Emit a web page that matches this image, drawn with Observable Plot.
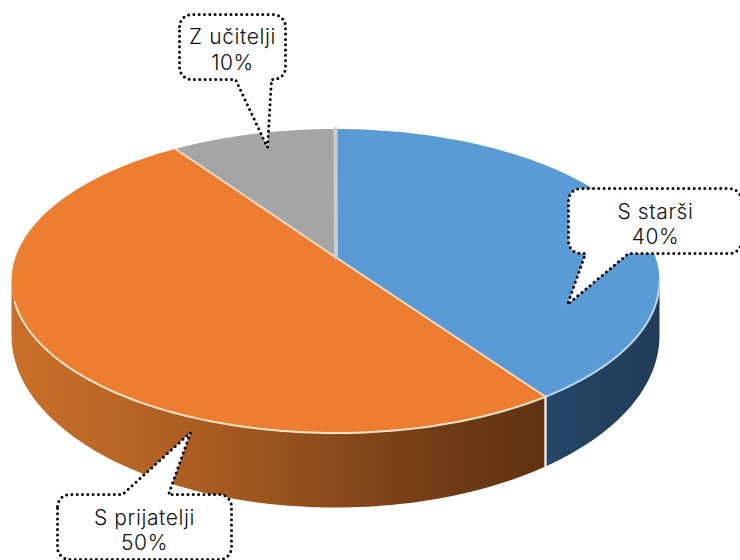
<!DOCTYPE html>
<html>
<head>
<meta charset="utf-8">
<script src="https://cdn.jsdelivr.net/npm/d3@7"></script>
<script src="https://cdn.jsdelivr.net/npm/@observablehq/plot@0.6"></script>
<style>
html,body{margin:0;padding:0;background:#fff;overflow:hidden}
svg{display:block}
</style>
</head>
<body>
<div id="chart"></div>
<script>
const categories = ["S starši", "S prijatelji", "Z učitelji"];
const values = [40, 50, 10];
const sliceColors = ["#5B9BD5", "#ED7D31", "#A5A5A5"];
const rimColors = ["#bcd6ee", "#fde3c8", "#c9ced6"];

// perspective drawing of the disc
const W = 740, H = 560;
const topRim = {cx: 335, cy: 280.5, rx: 324, ry: 152};
const bottomRim = {cx: 335, cy: 335, rx: 324, ry: 172};
const apex = {x: 335.5, y: 257};
const rad = d => d * Math.PI / 180;
const warp = a => a - 9.18 * Math.sin(rad(a)) - 1.05 * Math.sin(rad(2 * a));
const onEllipse = (e, t) => ({x: e.cx + e.rx * Math.sin(rad(t)), y: e.cy - e.ry * Math.cos(rad(t))});
const steps = (a0, a1, n = 90) => d3.range(n + 1).map(i => a0 + (a1 - a0) * i / n);

const total = d3.sum(values);
let acc = 0;
const slices = values.map((v, i) => {
  const a0 = acc / total * 360; acc += v;
  return {i, a0, a1: acc / total * 360, t0: warp(a0), t1: warp(acc / total * 360)};
});

const poly = (pts, o) => Plot.line(pts, {x: "x", y: "y", curve: "linear", ...o});

const marks = [];

// gradients for the wall
const wallGradients = () => {
  const defs = d3.create("svg:defs");
  const grad = (id, stops) => {
    const g = defs.append("linearGradient").attr("id", id).attr("gradientUnits", "userSpaceOnUse")
      .attr("x1", 0).attr("x2", W).attr("y1", 0).attr("y2", 0);
    stops.forEach(([o, c]) => g.append("stop").attr("offset", o).attr("stop-color", c));
  };
  grad("wall0", [[0.73, "#264a6c"], [0.78, "#234362"], [0.9, "#213c58"]]);
  grad("wall1", [[0.02, "#c96f29"], [0.14, "#bc6827"], [0.30, "#a55a20"], [0.45, "#8a4a1b"], [0.60, "#703c16"], [0.74, "#603212"]]);
  return defs.node();
};
marks.push(wallGradients);

// side walls (front half only)
slices.forEach(s => {
  const t0 = Math.max(s.t0, 90), t1 = Math.min(s.t1, 270);
  if (t1 <= t0) return;
  const ts = steps(t0, t1);
  const pts = [...ts.map(t => onEllipse(topRim, t)), ...ts.slice().reverse().map(t => onEllipse(bottomRim, t))];
  marks.push(poly(pts, {fill: `url(#wall${s.i})`, stroke: "none"}));
});
// divider on the wall
{
  const t = slices[0].t1;
  marks.push(poly([onEllipse(topRim, t), onEllipse(bottomRim, t)], {stroke: "#ece9e6", strokeWidth: 2.4}));
}

// top faces
slices.forEach(s => {
  const rim = steps(s.a0, s.a1).map(a => onEllipse(topRim, warp(a)));
  marks.push(poly([apex, ...rim, apex], {fill: sliceColors[s.i], stroke: "none"}));
});
// rim highlight on the front
slices.forEach(s => {
  const t0 = Math.max(s.t0, 90), t1 = Math.min(s.t1, 262);
  if (t1 <= t0) return;
  marks.push(poly(steps(t0, t1).map(t => onEllipse(topRim, t)), {stroke: rimColors[s.i], strokeWidth: 2}));
});
// slice borders on the face
marks.push(poly([apex, onEllipse(topRim, slices[0].t1)], {stroke: "#f6dcc4", strokeWidth: 2}));
marks.push(poly([apex, onEllipse(topRim, slices[1].t1)], {stroke: "#eed9c6", strokeWidth: 2}));
marks.push(poly([apex, onEllipse(topRim, 0)], {stroke: rimColors[2], strokeWidth: 4}));

// callouts
const callouts = [
  {box: [568, 188, 741, 253], side: "bottom", base: [585, 628], tip: [567, 304], label: [655, 223]},
  {box: [57, 494, 231, 559], side: "top", base: [122, 168], tip: [190, 432], label: [144, 529]},
  {box: [179, 14, 285, 79], side: "bottom", base: [235, 271], tip: [267, 147], label: [232, 48.5]}
];
const corner = (cx, cy, r, from) => d3.range(0, 7).map(i => {
  const t = rad(from + i * 15);
  return {x: cx + r * Math.cos(t), y: cy + r * Math.sin(t)};
});
function calloutShape({box: [x0, y0, x1, y1], side, base, tip}) {
  const r = 12, p = [];
  const tipP = {x: tip[0], y: tip[1]};
  p.push(...corner(x0 + r, y0 + r, r, 180));
  if (side === "top") p.push({x: base[0], y: y0}, tipP, {x: base[1], y: y0});
  p.push(...corner(x1 - r, y0 + r, r, 270));
  p.push(...corner(x1 - r, y1 - r, r, 0));
  if (side === "bottom") p.push({x: base[1], y: y1}, tipP, {x: base[0], y: y1});
  p.push(...corner(x0 + r, y1 - r, r, 90));
  p.push(p[0]);
  return p;
}
callouts.forEach(c => {
  marks.push(poly(calloutShape(c), {
    fill: "white", stroke: "#000", strokeWidth: 3,
    strokeDasharray: "0 5.3", strokeLinecap: "round", strokeLinejoin: "round"
  }));
});
marks.push(Plot.text(callouts, {
  x: d => d.label[0], y: d => d.label[1],
  text: (d, i) => `${categories[i]}\n${values[i]}%`,
  fontSize: 21, fontWeight: 300, lineHeight: 1.2, fill: "#111", textAnchor: "middle"
}));

const chart = Plot.plot({
  width: W, height: H,
  margin: 0,
  style: {background: "white", fontFamily: "Inter, 'Noto Sans', sans-serif", letterSpacing: "0.6px"},
  x: {domain: [0, W], range: [0, W], axis: null},
  y: {domain: [0, H], range: [0, H], axis: null},
  marks
});
document.getElementById("chart").appendChild(chart);
</script>
</body>
</html>
